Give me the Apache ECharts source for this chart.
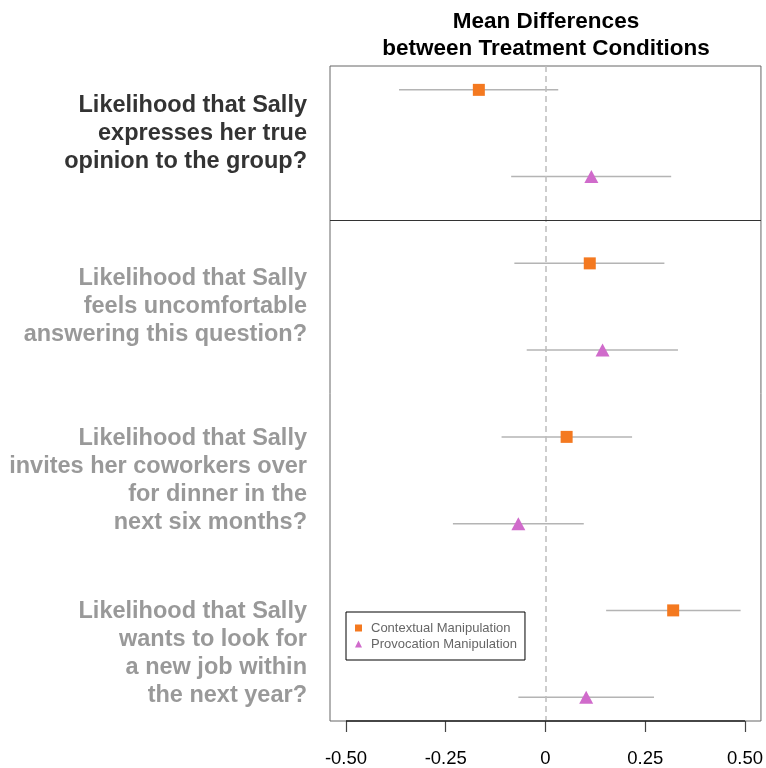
<!DOCTYPE html>
<html>
<head>
<meta charset="utf-8">
<script src="https://cdn.jsdelivr.net/npm/echarts@6/dist/echarts.min.js"></script>
<style>
  html, body { margin: 0; padding: 0; background: #fff; }
  #chart { width: 766px; height: 768px; }
</style>
</head>
<body>
<div id="chart"></div>
<script>
// Questions, top to bottom
const questions = [
  'Likelihood that Sally\nexpresses her true\nopinion to the group?',
  'Likelihood that Sally\nfeels uncomfortable\nanswering this question?',
  'Likelihood that Sally\ninvites her coworkers over\nfor dinner in the\nnext six months?',
  'Likelihood that Sally\nwants to look for\na new job within\nthe next year?'
];

// Contextual manipulation: mean difference and interval bounds
const ctxMean = [-0.167, 0.111, 0.053, 0.320];
const ctxLow  = [-0.367, -0.078, -0.110, 0.152];
const ctxHigh = [0.032, 0.298, 0.217, 0.489];

// Provocation manipulation: mean difference and interval bounds
const provMean = [0.115, 0.143, -0.068, 0.102];
const provLow  = [-0.086, -0.047, -0.232, -0.068];
const provHigh = [0.315, 0.332, 0.096, 0.272];

// Row slots on the vertical axis (1 = top)
const ctxRow  = [1, 3, 5, 7];
const provRow = [2, 4, 6, 8];
const labelRow = [1.5, 3.5, 5.5, 7.5];

const xTicks = [-0.5, -0.25, 0, 0.25, 0.5];
const xTickLabels = ['-0.50', '-0.25', '0', '0.25', '0.50'];

const Y_MIN = 0.725, Y_MAX = 8.275;

const ORANGE = '#F47920';
const PURPLE = '#D06BCB';

const ctxPoints  = ctxMean.map((m, i) => [m, ctxRow[i]]);
const provPoints = provMean.map((m, i) => [m, provRow[i]]);
const bars = ctxMean.map((_, i) => [ctxLow[i], ctxHigh[i], ctxRow[i]])
  .concat(provMean.map((_, i) => [provLow[i], provHigh[i], provRow[i]]));

const chart = echarts.init(document.getElementById('chart'));

chart.setOption({
  animation: false,
  backgroundColor: '#fff',
  textStyle: { fontFamily: 'Liberation Sans, Arial, sans-serif' },
  title: {
    text: 'Mean Differences\nbetween Treatment Conditions',
    left: 541,
    top: 3,
    textAlign: 'center',
    textStyle: {
      fontSize: 22.5, fontWeight: 'bold', color: '#000',
      lineHeight: 27, fontFamily: 'Liberation Sans, Arial, sans-serif'
    }
  },
  legend: {
    left: 346,
    top: 612,
    orient: 'vertical',
    borderColor: '#000',
    borderWidth: 1,
    padding: [8, 8, 8, 9],
    itemGap: 0,
    itemWidth: 7,
    itemHeight: 7,
    textStyle: { fontSize: 13, color: '#666', lineHeight: 16, padding: [0, 0, 0, 4] },
    data: [
      { name: 'Contextual Manipulation', icon: 'rect' },
      { name: 'Provocation Manipulation', icon: 'triangle' }
    ]
  },
  grid: {
    left: 330, right: 4, top: 66, bottom: 44,
    show: true, borderColor: '#666', borderWidth: 1
  },
  xAxis: {
    type: 'value',
    min: -0.54,
    max: 0.54,
    splitLine: { show: false },
    axisLine: { show: false },
    axisTick: {
      show: true, customValues: xTicks, length: 11,
      lineStyle: { color: '#444', width: 1.2 }
    },
    axisLabel: {
      customValues: xTicks,
      fontSize: 18.5,
      color: '#000',
      margin: 28,
      formatter: v => xTickLabels[xTicks.findIndex(t => Math.abs(t - v) < 1e-9)]
    }
  },
  yAxis: {
    type: 'value',
    inverse: true,
    min: Y_MIN,
    max: Y_MAX,
    splitLine: { show: false },
    axisLine: { show: false },
    axisTick: { show: false },
    axisLabel: {
      customValues: labelRow,
      margin: 23,
      fontSize: 23.5,
      fontWeight: 'bold',
      lineHeight: 28,
      align: 'right',
      padding: [4, 0, 0, 0],
      color: (v) => (Math.abs(v - labelRow[0]) < 1e-9 ? '#333' : '#999'),
      formatter: v => questions[labelRow.findIndex(t => Math.abs(t - v) < 1e-9)]
    }
  },
  series: [
    {
      name: 'intervals',
      type: 'custom',
      z: 1,
      silent: true,
      data: bars,
      encode: { x: [0, 1], y: 2 },
      renderItem: (params, api) => {
        const a = api.coord([api.value(0), api.value(2)]);
        const b = api.coord([api.value(1), api.value(2)]);
        return {
          type: 'line',
          shape: { x1: a[0], y1: a[1], x2: b[0], y2: b[1] },
          style: { stroke: '#b4b4b4', lineWidth: 1.5 }
        };
      },
      markLine: {
        silent: true,
        symbol: 'none',
        label: { show: false },
        animation: false,
        data: [
          { xAxis: 0, lineStyle: { color: '#bdbdbd', width: 1.5, type: [6, 4] } },
          { yAxis: 2.5, lineStyle: { color: '#333', width: 1.2, type: 'solid' } },
          [
            { coord: [-0.5, Y_MAX], lineStyle: { color: '#222', width: 1.5, type: 'solid' } },
            { coord: [0.5, Y_MAX] }
          ]
        ]
      }
    },
    {
      name: 'Contextual Manipulation',
      type: 'scatter',
      z: 3,
      symbol: 'rect',
      symbolSize: 12,
      itemStyle: { color: ORANGE, opacity: 1 },
      data: ctxPoints
    },
    {
      name: 'Provocation Manipulation',
      type: 'scatter',
      z: 3,
      symbol: 'triangle',
      symbolSize: [14, 13],
      itemStyle: { color: PURPLE, opacity: 1 },
      data: provPoints
    }
  ]
});
</script>
</body>
</html>
